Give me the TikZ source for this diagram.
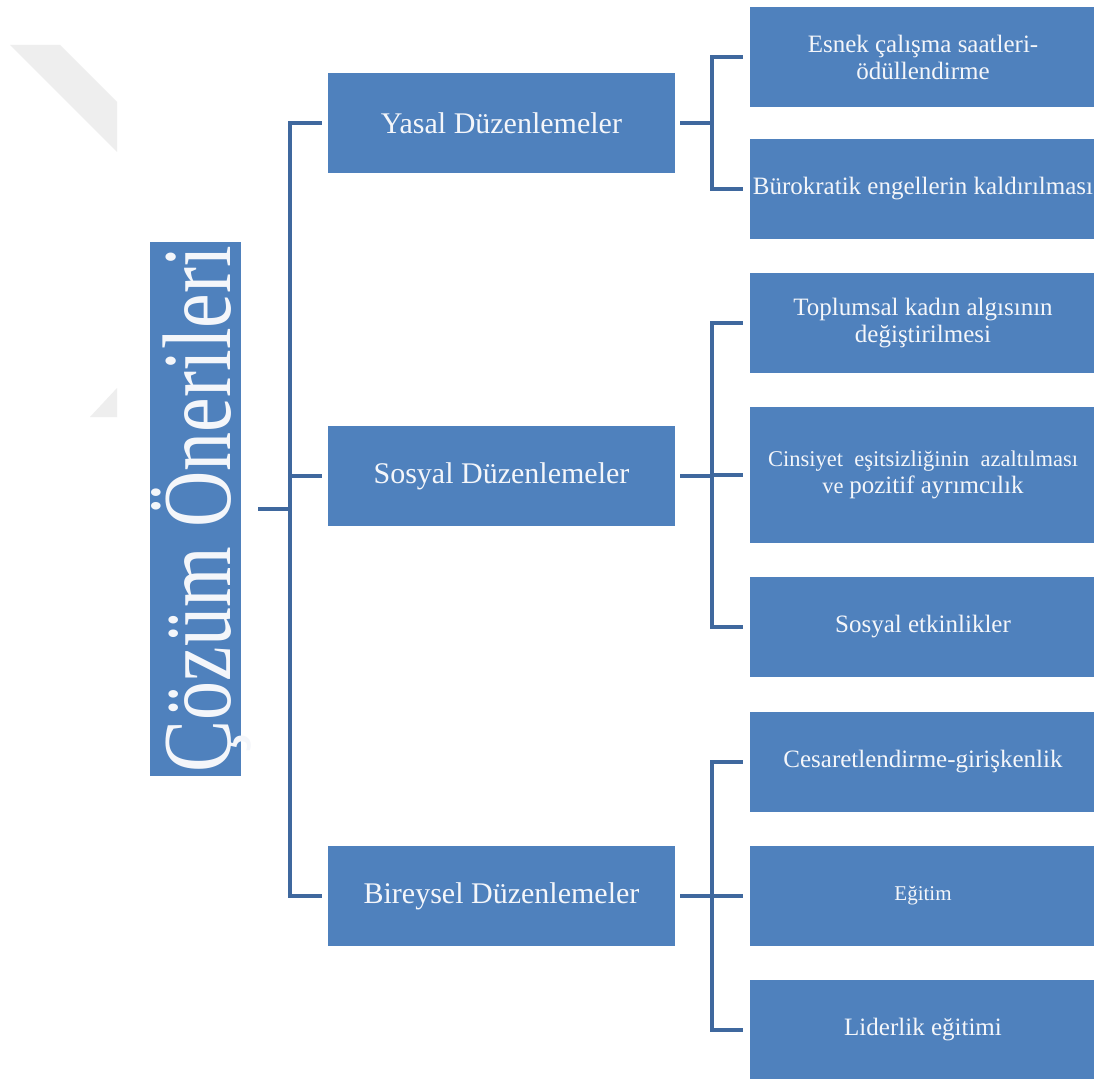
\documentclass[tikz,border=0pt]{standalone}
\usepackage{fontspec}
\setmainfont{Liberation Serif}
\usepackage{graphicx}
\usepackage{xcolor}
\usepackage{tikz}
\definecolor{kutu}{HTML}{4F81BD}
\definecolor{cizgi}{HTML}{3F689E}
\definecolor{filigran}{HTML}{EEEEEE}
\definecolor{yazi}{HTML}{F4F6FA}

\begin{document}
\begin{tikzpicture}[x=1pt, y=-1pt,
		kok/.style={
			fill=kutu,
			text=yazi,
			rotate=90,
			minimum width=534pt,
			minimum height=91pt,
			inner sep=0pt,
			font=\fontsize{78}{80}\selectfont},
		ana/.style={
			fill=kutu,
			text=yazi,
			minimum width=347pt,
			minimum height=100pt,
			inner sep=2pt,
			font=\fontsize{30}{34}\selectfont},
		alt/.style={
			fill=kutu,
			text=yazi,
			minimum width=346pt,
			minimum height=#1,
			inner xsep=2pt,
			align=center,
			font=\fontsize{25}{27}\selectfont},
		alt/.default=100pt,
		bag/.style={draw=cizgi, line width=4.5pt}
		]
		\path[use as bounding box, fill=white] (0,0) rectangle (1094,1078);
		% filigran
		\fill[filigran] (10,45) -- (60,45) -- (117,102) -- (117,152) -- cycle;
		\fill[filigran] (90,417) -- (117,388) -- (117,417) -- cycle;
		\node[kok] (cz) at (195.5,509) {\smash{\raisebox{-35pt}{\scalebox{1}[1.25]{Çözüm Önerileri}}}};
		\node[ana] (yd) at (501.5,123) {Yasal Düzenlemeler};
		\node[ana] (sd) at (501.5,476) {Sosyal Düzenlemeler};
		\node[ana] (bd) at (501.5,896) {Bireysel Düzenlemeler};
		\node[alt] (y1) at (923,57) {Esnek çalışma saatleri-\\ödüllendirme};
		\node[alt] (y2) at (923,189) {Bürokratik engellerin kaldırılması};
		\node[alt] (s1) at (923,323) {Toplumsal kadın algısının\\değiştirilmesi};
		\node[alt=136pt] (s2) at (923,475) {\fontsize{22.5}{27}\selectfont Cinsiyet\ \ eşitsizliğinin\ \ azaltılması\\\fontsize{22.5}{27}\selectfont ve {\fontsize{25}{27}\selectfont pozitif ayrımcılık}};
		\node[alt] (s3) at (923,627) {Sosyal etkinlikler};
		\node[alt] (b1) at (923,762) {Cesaretlendirme-girişkenlik};
		\node[alt] (b2) at (923,896) {\fontsize{21}{24}\selectfont Eğitim};
		\node[alt] (b3) at (923,1030) {Liderlik eğitimi};
		\coordinate (k0) at (290,509);
		\coordinate (ky) at (712,123);
		\coordinate (ks) at (712,476);
		\coordinate (kb) at (712,896);
		\draw[bag] ([xshift=17pt]cz.south) -- (k0);
		\foreach \n in {yd,sd,bd}
			\draw[bag] (k0) |- ([xshift=-6pt]\n.west);
		\draw[bag] ([xshift=5pt]yd.east) -- (ky);
		\draw[bag] ([xshift=5pt]sd.east) -- (ks);
		\draw[bag] ([xshift=5pt]bd.east) -- (kb);
		\foreach \n in {y1,y2}
			\draw[bag] (ky) |- ([xshift=-7pt]\n.west);
		\foreach \n in {s1,s2,s3}
			\draw[bag] (ks) |- ([xshift=-7pt]\n.west);
		\foreach \n in {b1,b2,b3}
			\draw[bag] (kb) |- ([xshift=-7pt]\n.west);
\end{tikzpicture}
\end{document}
